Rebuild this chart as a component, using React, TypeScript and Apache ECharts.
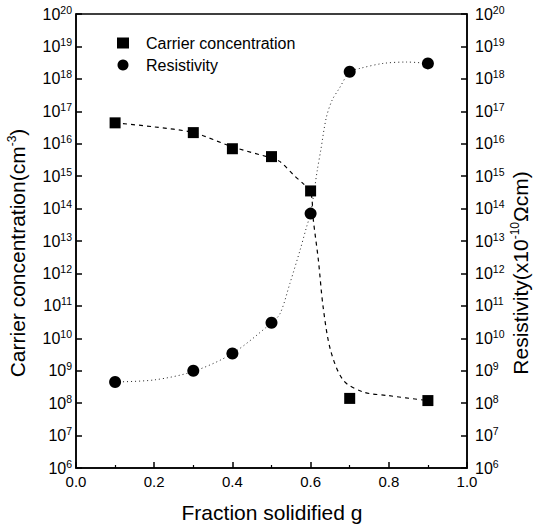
import React, { useEffect, useRef } from "react";
import * as echarts from "echarts";

// Measured data points
const fractionX = [0.1, 0.3, 0.4, 0.5, 0.6, 0.7, 0.9];
const carrierValues = [4.4e16, 2.2e16, 7e15, 4e15, 3.5e14, 1.4e8, 1.2e8];
const resistivityValues = [4.5e8, 1.0e9, 3.4e9, 3.0e10, 7e13, 1.65e18, 3.0e18];

// Fitted guide curves
const carrierFitX = [0.1, 0.2, 0.3, 0.4, 0.5, 0.522, 0.556, 0.581, 0.6, 0.607, 0.62, 0.632, 0.651, 0.684, 0.735, 0.8, 0.9];
const carrierFitY = [4.4e16, 3.3e16, 2.2e16, 8e15, 3.6e15, 2.8e15, 1.1e15, 5.9e14, 3.5e14, 4.4e13, 2.5e12, 9.3e10, 4.3e9, 5e8, 2.2e8, 1.7e8, 1.2e8];
const resistivityFitX = [0.1, 0.2, 0.3, 0.4, 0.5, 0.522, 0.547, 0.573, 0.59, 0.6, 0.607, 0.617, 0.626, 0.64, 0.655, 0.673, 0.7, 0.726, 0.786, 0.846, 0.9];
const resistivityFitY = [4.5e8, 5.2e8, 9.5e8, 3.4e9, 3e10, 5.8e10, 4.9e11, 5.2e12, 2.8e13, 7e13, 2.3e14, 1.5e15, 6.3e15, 6.3e16, 2.2e17, 5e17, 1.65e18, 2.1e18, 3e18, 3.3e18, 3e18];

const xTicks = [0, 0.2, 0.4, 0.6, 0.8, 1.0];
const yMinExp = 6;
const yMaxExp = 20;

const FONT = "Liberation Sans, Arial, Helvetica, sans-serif";
const INK = "#000";

const pairs = (xs: number[], ys: number[]) => xs.map((x, i) => [x, ys[i]]);

const powLabel = (v: number) => `{b|10}{s|${Math.round(Math.log10(v))}}`;
const powRich = {
  b: { fontSize: 16, fontFamily: FONT, color: INK },
  s: { fontSize: 10.5, fontFamily: FONT, color: INK, padding: [0, 0, 9, 0] },
};

export default function App() {
  const ref = useRef<HTMLDivElement>(null);
  useEffect(() => {
    if (!ref.current) return;
    const chart = echarts.init(ref.current, undefined, { renderer: "svg" });
    const yAxisBase = {
      type: "log" as const,
      logBase: 10,
      min: Math.pow(10, yMinExp),
      max: Math.pow(10, yMaxExp),
      interval: 1,
      axisLine: { show: true, lineStyle: { color: INK, width: 1.5 } },
      axisTick: { show: true, inside: true, length: 6, lineStyle: { color: INK, width: 1.5 } },
      splitLine: { show: false },
      axisLabel: { formatter: powLabel, rich: powRich },
    };
    chart.setOption({
      animation: false,
      grid: { left: 76, right: 74, top: 14, bottom: 60, show: true, borderColor: INK, borderWidth: 1.5 },
      legend: {
        orient: "vertical",
        left: 112,
        top: 30,
        itemGap: 6,
        itemWidth: 12,
        itemHeight: 11,
        textStyle: { fontSize: 16, fontFamily: FONT, color: INK, padding: [0, 0, 0, 12] },
        data: [
          { name: "Carrier concentration", icon: "rect" },
          { name: "Resistivity", icon: "circle" },
        ],
      },
      xAxis: {
        type: "value",
        min: 0,
        max: 1,
        interval: 0.2,
        axisLine: { show: true, lineStyle: { color: INK, width: 1.5 } },
        axisTick: { show: true, inside: true, length: 6, lineStyle: { color: INK, width: 1.5 } },
        minorTick: { show: true, splitNumber: 2, length: 3, lineStyle: { color: INK, width: 1.2 } },
        splitLine: { show: false },
        axisLabel: {
          formatter: (v: number) => (xTicks.includes(Number(v.toFixed(1))) ? v.toFixed(1) : ""),
          fontSize: 15,
          fontFamily: FONT,
          color: INK,
          margin: 6,
        },
      },
      yAxis: [
        { ...yAxisBase, position: "left", axisLabel: { ...yAxisBase.axisLabel, margin: 4 } },
        { ...yAxisBase, position: "right", axisLabel: { ...yAxisBase.axisLabel, margin: 8 } },
      ],
      graphic: [
        {
          type: "text",
          x: 17,
          y: 253,
          rotation: Math.PI / 2,
          style: {
            text: "Carrier concentration(cm{s|-3})",
            fontSize: 21,
            fontFamily: FONT,
            fill: INK,
            align: "center",
            verticalAlign: "middle",
            rich: { s: { fontSize: 12, fontFamily: FONT, fill: INK, padding: [0, 0, 10, 0] } },
          },
        },
        {
          type: "text",
          x: 520,
          y: 273,
          rotation: Math.PI / 2,
          style: {
            text: "Resistivity(x10{s|-10}Ωcm)",
            fontSize: 21,
            fontFamily: FONT,
            fill: INK,
            align: "center",
            verticalAlign: "middle",
            rich: { s: { fontSize: 12, fontFamily: FONT, fill: INK, padding: [0, 0, 10, 0] } },
          },
        },
        {
          type: "text",
          x: 272,
          y: 512,
          style: {
            text: "Fraction solidified g",
            fontSize: 21,
            fontFamily: FONT,
            fill: INK,
            align: "center",
            verticalAlign: "middle",
          },
        },
      ],
      series: [
        {
          name: "carrierFit",
          type: "line",
          yAxisIndex: 0,
          smooth: 0.3,
          showSymbol: false,
          silent: true,
          data: pairs(carrierFitX, carrierFitY),
          lineStyle: { color: INK, width: 1.2, type: [4, 4] },
          z: 1,
        },
        {
          name: "resistivityFit",
          type: "line",
          yAxisIndex: 1,
          smooth: 0.3,
          showSymbol: false,
          silent: true,
          data: pairs(resistivityFitX, resistivityFitY),
          lineStyle: { color: "#222", width: 1, type: [1, 3] },
          z: 1,
        },
        {
          name: "Carrier concentration",
          type: "scatter",
          yAxisIndex: 0,
          symbol: "rect",
          symbolSize: 11,
          itemStyle: { color: INK, opacity: 1 },
          data: pairs(fractionX, carrierValues),
          z: 3,
        },
        {
          name: "Resistivity",
          type: "scatter",
          yAxisIndex: 1,
          symbol: "circle",
          symbolSize: 12,
          itemStyle: { color: INK, opacity: 1 },
          data: pairs(fractionX, resistivityValues),
          z: 3,
        },
      ],
    });
    return () => chart.dispose();
  }, []);
  return <div ref={ref} style={{ width: 541, height: 528, position: "absolute", left: 0, top: 0 }} />;
}
